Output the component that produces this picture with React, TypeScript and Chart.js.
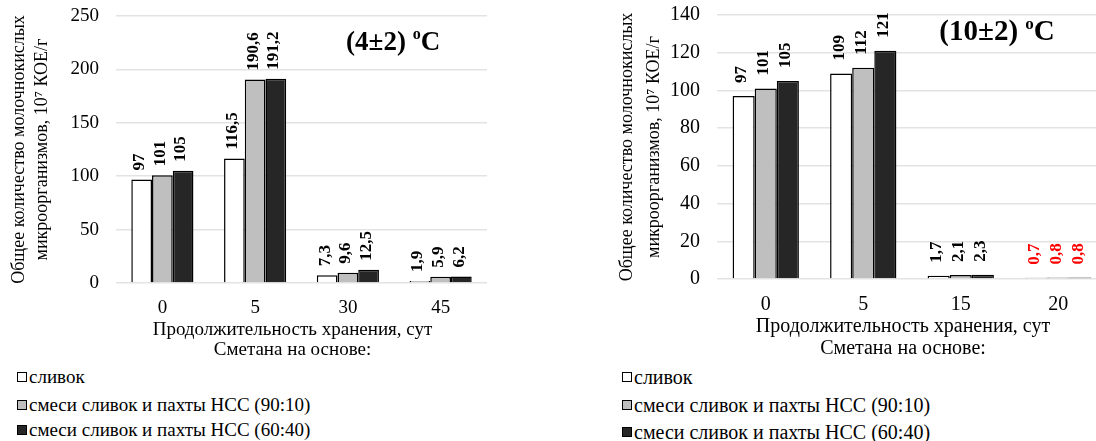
import React, { useEffect, useRef } from 'react';
import { Chart, registerables } from 'chart.js';

Chart.register(...registerables);

// ---------- data ----------
const leftDays = ['0', '5', '30', '45'];
const leftCream = [97, 116.5, 7.3, 1.9];
const leftMix9010 = [101, 190.6, 9.6, 5.9];
const leftMix6040 = [105, 191.2, 12.5, 6.2];
const leftYMax = 250;
const leftYStep = 50;
const leftTemp = '(4±2) ';

const rightDays = ['0', '5', '15', '20'];
const rightCream = [97, 109, 1.7, 0.7];
const rightMix9010 = [101, 112, 2.1, 0.8];
const rightMix6040 = [105, 121, 2.3, 0.8];
const rightYMax = 140;
const rightYStep = 20;
const rightTemp = '(10±2) ';
const rightHighlightIndex = 3;

const seriesNames = ['сливок', 'смеси сливок и пахты НСС (90:10)', 'смеси сливок и пахты НСС (60:40)'];
const yTitle = ['Общее количество молочнокислых', 'микроорганизмов, 10⁷ КОЕ/г'];
const xTitle = ['Продолжительность хранения, сут', 'Сметана на основе:'];

// ---------- styles ----------
const SERIF = "'Liberation Serif', 'Times New Roman', serif";
const fills = ['#ffffff', '#bfbfbf', '#262626'];

const valueLabels = {
  id: 'valueLabels',
  afterDatasetsDraw(chart: any, _args: any, opts: any) {
    const ctx = chart.ctx;
    chart.data.datasets.forEach((ds: any, di: number) => {
      const meta = chart.getDatasetMeta(di);
      meta.data.forEach((bar: any, i: number) => {
        const text = String(ds.data[i]).replace('.', ',');
        ctx.save();
        ctx.font = `bold ${opts.size}px ${SERIF}`;
        ctx.translate(bar.x - 2, bar.y - opts.offset);
        ctx.rotate(-Math.PI / 2);
        ctx.textAlign = 'left';
        ctx.textBaseline = 'middle';
        ctx.fillStyle = opts.highlight === i ? '#ff0000' : '#000000';
        ctx.fillText(text, 0, 0);
        ctx.restore();
      });
    });
  },
};

const tempLabel = {
  id: 'tempLabel',
  afterDraw(chart: any, _args: any, opts: any) {
    const { ctx, chartArea } = chart;
    const cx = chartArea.left + opts.fx * (chartArea.right - chartArea.left);
    const cy = chartArea.top + opts.fy * (chartArea.bottom - chartArea.top);
    ctx.save();
    ctx.fillStyle = '#000';
    ctx.textBaseline = 'middle';
    ctx.textAlign = 'left';
    const big = `bold ${opts.size}px ${SERIF}`;
    const small = `bold ${Math.round(opts.size * 0.6)}px ${SERIF}`;
    ctx.font = big;
    const w1 = ctx.measureText(opts.text).width;
    const w3 = ctx.measureText('C').width;
    ctx.font = small;
    const w2 = ctx.measureText('o').width;
    const total = w1 + w2 + w3;
    let x = cx - total / 2;
    ctx.font = big;
    ctx.fillText(opts.text, x, cy);
    x += w1;
    ctx.font = small;
    ctx.fillText('o', x, cy - opts.size * 0.3);
    x += w2;
    ctx.font = big;
    ctx.fillText('C', x, cy);
    ctx.restore();
  },
};

// x-axis title (two centred lines) drawn below the tick labels
const xTitleLines = {
  id: 'xTitleLines',
  afterDraw(chart: any, _args: any, opts: any) {
    const { ctx, chartArea } = chart;
    const cx = (chartArea.left + chartArea.right) / 2 + opts.dx;
    ctx.save();
    ctx.fillStyle = '#000';
    ctx.font = `${opts.size}px ${SERIF}`;
    ctx.textAlign = 'center';
    ctx.textBaseline = 'middle';
    xTitle.forEach((line, i) => {
      ctx.fillText(line, cx, chartArea.bottom + opts.ys[i]);
    });
    ctx.restore();
  },
};

type PanelProps = {
  left: number;
  width: number;
  height: number;
  labels: string[];
  series: number[][];
  yMax: number;
  yStep: number;
  temp: string;
  tempPos: [number, number];
  tempSize: number;
  highlight: number;
  cat: number;
  yWidth: number;
  xHeight: number;
  padTop: number;
  padRight: number;
  yTitlePad: number;
  yTitleLH: number;
  xTickPad: number;
  xTitleYs: number[];
  labelOffset: number;
  font: number;
};

function Panel(p: PanelProps) {
  const ref = useRef<HTMLCanvasElement | null>(null);
  useEffect(() => {
    if (!ref.current) return;
    const chart = new Chart(ref.current, {
      type: 'bar',
      data: {
        labels: p.labels,
        datasets: p.series.map((d, i) => ({
          label: seriesNames[i],
          data: d,
          backgroundColor: fills[i],
          borderColor: '#000000',
          borderWidth: 1.5,
          barPercentage: 1,
          categoryPercentage: p.cat,
        })),
      },
      options: {
        animation: false,
        responsive: false,
        devicePixelRatio: 1,
        layout: { padding: { top: p.padTop, right: p.padRight, left: 0, bottom: 0 } },
        plugins: {
          legend: { display: false },
          tooltip: { enabled: false },
          valueLabels: { size: 17, offset: p.labelOffset, highlight: p.highlight },
          tempLabel: { text: p.temp, fx: p.tempPos[0], fy: p.tempPos[1], size: p.tempSize },
          xTitleLines: { size: p.font, dx: -9, ys: p.xTitleYs },
        } as any,
        scales: {
          x: {
            grid: { display: false, drawTicks: false },
            border: { display: false },
            ticks: { color: '#000', font: { family: SERIF, size: p.font }, padding: p.xTickPad },
            afterFit: (s: any) => { s.height = p.xHeight; },
          },
          y: {
            min: 0,
            max: p.yMax,
            grid: { color: '#e3e3e3', lineWidth: 1.5, drawTicks: true, tickLength: 17, tickColor: 'rgba(0,0,0,0)' },
            border: { display: false },
            ticks: { stepSize: p.yStep, color: '#000', font: { family: SERIF, size: p.font }, padding: 0 },
            title: {
              display: true,
              text: yTitle,
              color: '#000',
              font: { family: SERIF, size: 18, lineHeight: p.yTitleLH / 18 },
              padding: { top: p.yTitlePad, bottom: 0 },
            },
            afterFit: (s: any) => { s.width = p.yWidth; },
          },
        },
      },
      plugins: [valueLabels, tempLabel, xTitleLines],
    } as any);
    return () => chart.destroy();
  }, []);
  return (
    <div style={{ position: 'absolute', left: p.left, top: 0, width: p.width, height: p.height }}>
      <canvas ref={ref} width={p.width} height={p.height} style={{ width: p.width, height: p.height, display: 'block' }} />
    </div>
  );
}

function Legend({ left, top, size, rows }: { left: number; top: number; size: number; rows: number[] }) {
  return (
    <>
      {seriesNames.map((name, i) => (
        <div
          key={name}
          style={{
            position: 'absolute',
            left,
            top: top + rows[i] - 12,
            height: 24,
            display: 'flex',
            alignItems: 'center',
            fontFamily: SERIF,
            fontSize: size,
            color: '#000',
            whiteSpace: 'nowrap',
          }}
        >
          <span
            style={{
              display: 'inline-block',
              width: 8,
              height: 8,
              border: '1.5px solid #000',
              background: fills[i],
              marginRight: 2,
            }}
          />
          <span>{name}</span>
        </div>
      ))}
    </>
  );
}

export default function App() {
  return (
    <div style={{ position: 'absolute', left: 0, top: 0, width: 1096, height: 441, overflow: 'hidden', background: '#fff' }}>
      <Panel
        left={0}
        width={500}
        height={365}
        labels={leftDays}
        series={[leftCream, leftMix9010, leftMix6040]}
        yMax={leftYMax}
        yStep={leftYStep}
        temp={leftTemp}
        tempPos={[0.747, 0.1]}
        tempSize={27}
        highlight={-1}
        cat={0.67}
        yWidth={116}
        xHeight={82}
        padTop={16}
        padRight={13}
        yTitlePad={8}
        yTitleLH={23}
        xTickPad={14}
        xTitleYs={[47, 67]}
        labelOffset={9}
        font={19}
      />
      <Panel
        left={560}
        width={550}
        height={365}
        labels={rightDays}
        series={[rightCream, rightMix9010, rightMix6040]}
        yMax={rightYMax}
        yStep={rightYStep}
        temp={rightTemp}
        tempPos={[0.718, 0.068]}
        tempSize={29}
        highlight={rightHighlightIndex}
        cat={0.68}
        yWidth={157}
        xHeight={86}
        padTop={15}
        padRight={3}
        yTitlePad={54}
        yTitleLH={27}
        xTickPad={14}
        xTitleYs={[48, 70]}
        labelOffset={13}
        font={20}
      />
      <Legend left={17} top={377} size={19} rows={[0, 28, 53]} />
      <Legend left={622} top={377} size={20} rows={[0, 28, 55]} />
    </div>
  );
}
